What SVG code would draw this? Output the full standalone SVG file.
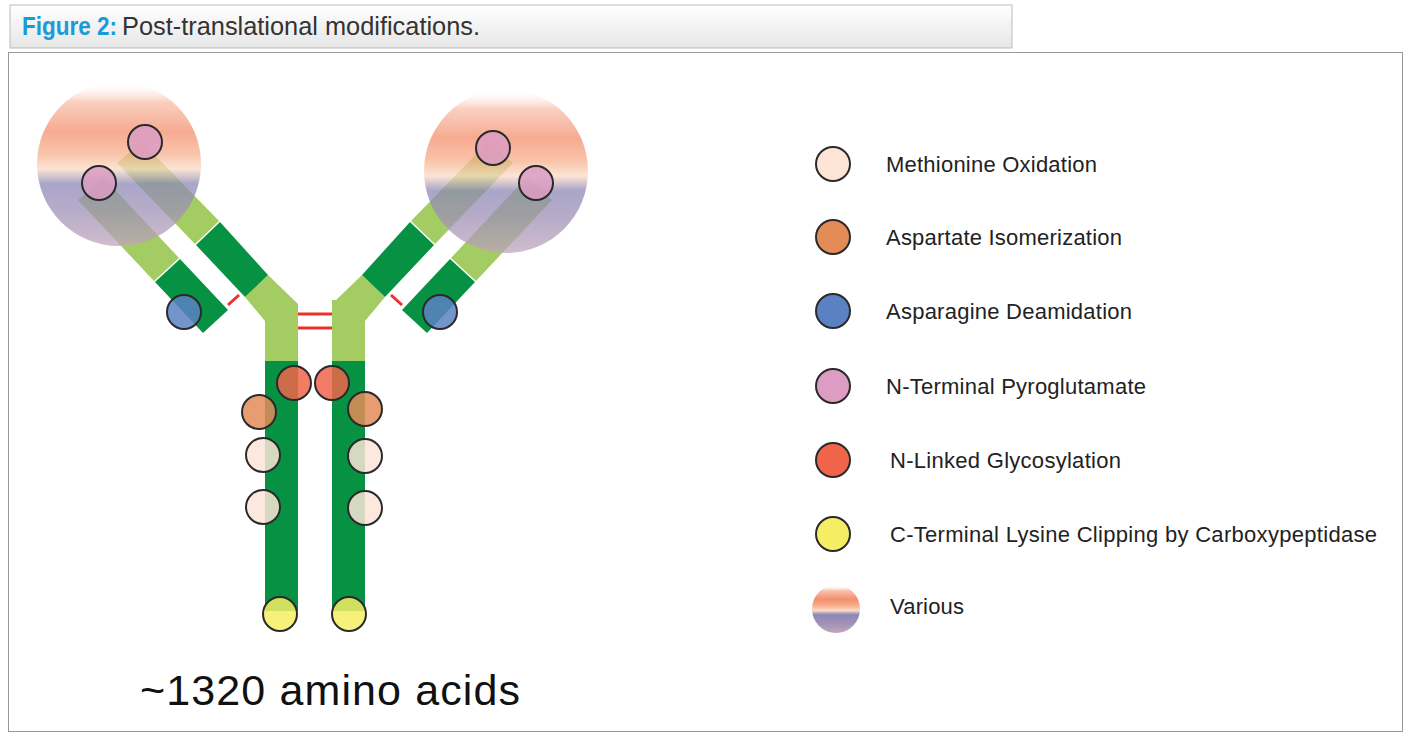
<svg xmlns="http://www.w3.org/2000/svg" width="1410" height="737" viewBox="0 0 1410 737">
<style>
.dk{fill:#079143}.lt{fill:#a3cc62}
.m{stroke:#2a2a2a;stroke-width:2;fill-opacity:0.85}
.lg{stroke:#2a2a2a;stroke-width:2}
.t{font-family:"Liberation Sans",Arial,sans-serif;font-size:22px;fill:#222}
.red{stroke:#ee3124;stroke-width:3}
</style>
<defs>
<linearGradient id="hdr" x1="0" y1="0" x2="0" y2="1"><stop offset="0" stop-color="#ffffff"/><stop offset="1" stop-color="#e6e6e6"/></linearGradient>
<linearGradient id="var" x1="0" y1="0" x2="0" y2="1">
<stop offset="0" stop-color="#ffffff" stop-opacity="0"/>
<stop offset="0.12" stop-color="#f8c0ac"/>
<stop offset="0.3" stop-color="#f38f6c"/>
<stop offset="0.44" stop-color="#f7b18f"/>
<stop offset="0.53" stop-color="#fbdcc6"/>
<stop offset="0.62" stop-color="#8d88b6"/>
<stop offset="0.78" stop-color="#9e90b6"/>
<stop offset="1" stop-color="#c0a6bb"/>
</linearGradient>
</defs>
<rect width="1410" height="737" fill="#fff"/>
<rect x="10" y="5" width="1002" height="43" fill="url(#hdr)" stroke="#bbb"/>
<text x="22" y="35" font-family="'Liberation Sans Narrow','Liberation Sans',Arial,sans-serif" font-size="25"><tspan font-weight="bold" fill="#1a9ad6" textLength="95" lengthAdjust="spacingAndGlyphs">Figure 2:</tspan><tspan fill="#333" x="122" textLength="358" lengthAdjust="spacingAndGlyphs">Post-translational modifications.</tspan></text>
<rect x="8.5" y="52.5" width="1394" height="679" fill="none" stroke="#999"/>

<g id="antibody">
<g id="left-arm">
<polygon class="lt" points="265,361 265,321 245,297 268,275 298,304 298,361"/>
<polygon class="dk" points="245,297 268,275 220,222 196,245"/>
<polygon class="lt" points="195,244 219,221 142,142 117,163"/>
<polygon class="dk" points="155,282 180,259 228,310 203,333"/>
<polygon class="lt" points="154,281 179,258 103,177 78,200"/>
<line class="red" x1="228" y1="305" x2="239" y2="295"/>
</g>
<g id="right-arm" transform="translate(630,0) scale(-1,1)">
<polygon class="lt" points="265,361 265,321 245,297 268,275 298,304 298,361"/>
<polygon class="dk" points="245,297 268,275 220,222 196,245"/>
<polygon class="lt" points="195,244 219,221 142,142 117,163"/>
<polygon class="dk" points="155,282 180,259 228,310 203,333"/>
<polygon class="lt" points="154,281 179,258 103,177 78,200"/>
<line class="red" x1="228" y1="305" x2="239" y2="295"/>
</g>
<g id="stems">
<rect class="dk" x="265" y="361" width="33" height="250"/>
<rect class="dk" x="332" y="361" width="33" height="250"/>
<rect class="lt" x="332" y="300" width="33" height="61"/>
</g>
<circle cx="119" cy="164" r="82" fill="url(#var)" opacity="0.75"/>
<circle cx="506" cy="171" r="82" fill="url(#var)" opacity="0.75"/>
</g>

<g id="connectors">
<line class="red" x1="298" y1="314" x2="332" y2="314"/>
<line class="red" x1="298" y1="328" x2="332" y2="328"/>
</g>

<g id="mods">
<circle class="m" cx="145" cy="142" r="17" fill="#dc9cc3"/>
<circle class="m" cx="99" cy="183" r="17" fill="#dc9cc3"/>
<circle class="m" cx="493" cy="148" r="17" fill="#dc9cc3"/>
<circle class="m" cx="536" cy="183" r="17" fill="#dc9cc3"/>
<circle class="m" cx="184" cy="312" r="17" fill="#5a82c3"/>
<circle class="m" cx="440" cy="312" r="17" fill="#5a82c3"/>
<circle class="m" cx="294" cy="383" r="17" fill="#f0654a"/>
<circle class="m" cx="332" cy="383" r="17" fill="#f0654a"/>
<circle class="m" cx="259" cy="412" r="17" fill="#e38c58"/>
<circle class="m" cx="365" cy="409" r="17" fill="#e38c58"/>
<circle class="m" cx="263" cy="455" r="17" fill="#fce4d6"/>
<circle class="m" cx="263" cy="507" r="17" fill="#fce4d6"/>
<circle class="m" cx="365" cy="456" r="17" fill="#fce4d6"/>
<circle class="m" cx="365" cy="508" r="17" fill="#fce4d6"/>
<circle class="m" cx="280" cy="614" r="17" fill="#f5ee64"/>
<circle class="m" cx="349" cy="614" r="17" fill="#f5ee64"/>
</g>

<g id="legend">
<circle class="lg" cx="833" cy="164" r="17" fill="#fce4d6"/>
<text class="t" x="886" y="172" textLength="211">Methionine Oxidation</text>
<circle class="lg" cx="833" cy="237" r="17" fill="#e38c58"/>
<text class="t" x="886" y="245" textLength="236">Aspartate Isomerization</text>
<circle class="lg" cx="833" cy="311" r="17" fill="#5a82c3"/>
<text class="t" x="886" y="319" textLength="246">Asparagine Deamidation</text>
<circle class="lg" cx="833" cy="386" r="17" fill="#dc9cc3"/>
<text class="t" x="886" y="394" textLength="260">N-Terminal Pyroglutamate</text>
<circle class="lg" cx="833" cy="460" r="17" fill="#f0654a"/>
<text class="t" x="890" y="468" textLength="231">N-Linked Glycosylation</text>
<circle class="lg" cx="833" cy="534" r="17" fill="#f5ee64"/>
<text class="t" x="890" y="542" textLength="487">C-Terminal Lysine Clipping by Carboxypeptidase</text>
<circle cx="836" cy="609" r="24" fill="url(#var)"/>
<text class="t" x="890" y="614" textLength="74">Various</text>
</g>
<text x="140" y="705" font-family="'Liberation Sans',Arial,sans-serif" font-size="43" fill="#111" textLength="380">~1320 amino acids</text>
</svg>
